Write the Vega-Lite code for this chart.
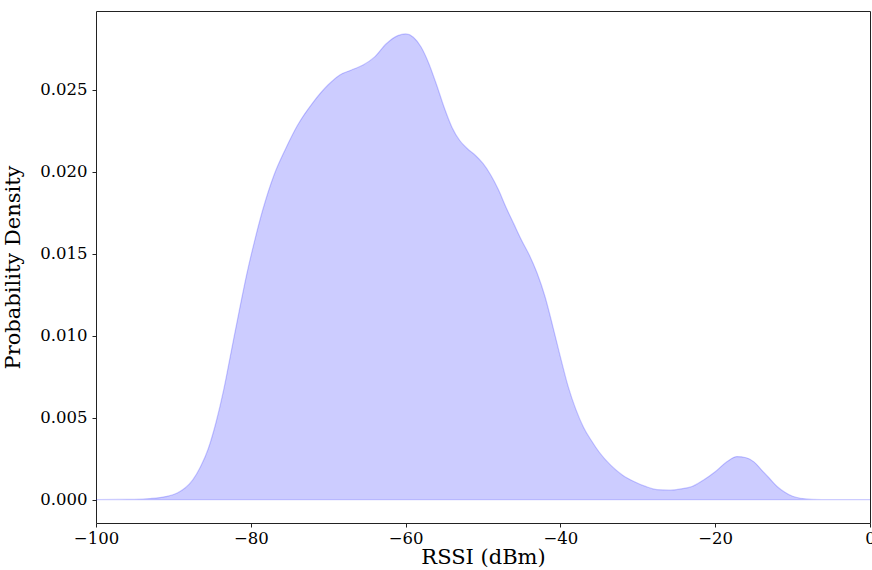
{
  "$schema": "https://vega.github.io/schema/vega-lite/v6.json",
  "width": 774,
  "height": 512,
  "autosize": "none",
  "padding": {"left": 96, "top": 11, "right": 2, "bottom": 47},
  "background": "white",
  "config": {
    "font": "DejaVu Serif",
    "view": {"stroke": "#222", "strokeWidth": 1},
    "axis": {
      "grid": false,
      "domain": false,
      "tickColor": "#222",
      "tickSize": 4,
      "tickWidth": 1,
      "labelFont": "DejaVu Serif",
      "labelFontSize": 16.5,
      "labelColor": "#000",
      "titleFont": "DejaVu Serif",
      "titleFontSize": 21,
      "titleFontWeight": "normal",
      "titleColor": "#000"
    }
  },
  "data": {
    "values": [
      {"rssi": -100, "density": 0},
      {"rssi": -97, "density": 0.00001},
      {"rssi": -95, "density": 0.00002},
      {"rssi": -93, "density": 0.00006},
      {"rssi": -91, "density": 0.00018},
      {"rssi": -89.5, "density": 0.0004},
      {"rssi": -88.5, "density": 0.0007},
      {"rssi": -87.5, "density": 0.0012},
      {"rssi": -86.5, "density": 0.002},
      {"rssi": -85.5, "density": 0.0031},
      {"rssi": -84.5, "density": 0.0047},
      {"rssi": -83.5, "density": 0.0067},
      {"rssi": -82.5, "density": 0.0091},
      {"rssi": -81.5, "density": 0.0115},
      {"rssi": -80.5, "density": 0.0138},
      {"rssi": -79.5, "density": 0.0158},
      {"rssi": -78.5, "density": 0.0176},
      {"rssi": -77, "density": 0.0198},
      {"rssi": -75.5, "density": 0.0214},
      {"rssi": -74, "density": 0.0228},
      {"rssi": -72, "density": 0.0242},
      {"rssi": -70, "density": 0.0253},
      {"rssi": -68.5, "density": 0.0259},
      {"rssi": -67, "density": 0.0262},
      {"rssi": -65.5, "density": 0.0265},
      {"rssi": -64, "density": 0.0270},
      {"rssi": -62.5, "density": 0.0278},
      {"rssi": -61, "density": 0.0283},
      {"rssi": -60, "density": 0.0284},
      {"rssi": -59, "density": 0.0282},
      {"rssi": -58, "density": 0.0276},
      {"rssi": -57, "density": 0.0266},
      {"rssi": -56, "density": 0.0253},
      {"rssi": -55, "density": 0.0239},
      {"rssi": -54, "density": 0.0227},
      {"rssi": -53, "density": 0.0219},
      {"rssi": -52, "density": 0.0214},
      {"rssi": -51, "density": 0.0210},
      {"rssi": -50, "density": 0.0205},
      {"rssi": -49, "density": 0.0198},
      {"rssi": -48, "density": 0.0189},
      {"rssi": -47, "density": 0.0178},
      {"rssi": -46, "density": 0.0168},
      {"rssi": -45, "density": 0.0158},
      {"rssi": -44, "density": 0.0149},
      {"rssi": -43, "density": 0.0138},
      {"rssi": -42, "density": 0.0124},
      {"rssi": -41, "density": 0.0106},
      {"rssi": -40, "density": 0.0087},
      {"rssi": -39, "density": 0.0069},
      {"rssi": -38, "density": 0.0055},
      {"rssi": -37, "density": 0.0044},
      {"rssi": -36, "density": 0.0036},
      {"rssi": -35, "density": 0.0029},
      {"rssi": -33.5, "density": 0.0021},
      {"rssi": -32, "density": 0.0015},
      {"rssi": -30.5, "density": 0.0011},
      {"rssi": -29, "density": 0.0008},
      {"rssi": -27.5, "density": 0.0006},
      {"rssi": -26, "density": 0.00057},
      {"rssi": -24.5, "density": 0.00065},
      {"rssi": -23, "density": 0.0008},
      {"rssi": -21.5, "density": 0.0012},
      {"rssi": -20, "density": 0.0017},
      {"rssi": -18.5, "density": 0.0023},
      {"rssi": -17.2, "density": 0.00262},
      {"rssi": -16, "density": 0.00255},
      {"rssi": -15, "density": 0.0023},
      {"rssi": -14, "density": 0.0018},
      {"rssi": -13, "density": 0.0013},
      {"rssi": -12, "density": 0.0008},
      {"rssi": -11, "density": 0.00045},
      {"rssi": -10, "density": 0.0002},
      {"rssi": -9, "density": 0.00008},
      {"rssi": -7.5, "density": 0.00002},
      {"rssi": -5, "density": 0},
      {"rssi": 0, "density": 0}
    ]
  },
  "mark": {
    "type": "area",
    "interpolate": "monotone",
    "fill": "#0000ff",
    "fillOpacity": 0.2,
    "stroke": "#0000ff",
    "strokeOpacity": 0.2,
    "strokeWidth": 1.2
  },
  "encoding": {
    "x": {
      "field": "rssi",
      "type": "quantitative",
      "scale": {"domain": [-100, 0], "nice": false, "zero": false},
      "axis": {
        "title": "RSSI (dBm)",
        "values": [-100, -80, -60, -40, -20, 0],
        "format": "d",
        "labelPadding": 3,
        "titlePadding": 0,
        "labelFlush": false
      }
    },
    "y": {
      "field": "density",
      "type": "quantitative",
      "scale": {"domain": [-0.00143, 0.0298], "nice": false, "zero": false},
      "axis": {
        "title": "Probability Density",
        "values": [0, 0.005, 0.01, 0.015, 0.02, 0.025],
        "format": ".3f",
        "labelPadding": 5,
        "titlePadding": 16
      }
    }
  }
}
